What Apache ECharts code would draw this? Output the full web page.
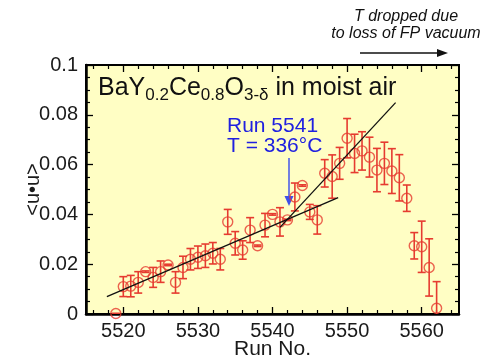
<!DOCTYPE html>
<html>
<head>
<meta charset="utf-8">
<script src="https://cdn.jsdelivr.net/npm/echarts@6/dist/echarts.min.js"></script>
<style>
html,body{margin:0;padding:0;background:#fff;}
#c{width:487px;height:356px;}
</style>
</head>
<body>
<div id="c"></div>
<script>
// ---- data ----
const runs = [5519,5520,5521,5522,5523,5524,5525,5526,5527,5528,5529,5530,5531,5532,5533,5534,5535,5536,5537,5538,5539,5540,5541,5542,5543,5544,5545,5546,5547,5548,5549,5550,5551,5552,5553,5554,5555,5556,5557,5558,5559,5560,5561,5562];
const uu = [0.0002,0.0110,0.0112,0.0127,0.0170,0.0147,0.0170,0.0197,0.0127,0.0187,0.0220,0.0228,0.0234,0.0244,0.0220,0.0370,0.0284,0.0257,0.0337,0.0274,0.0357,0.0400,0.0370,0.0378,0.0470,0.0516,0.0410,0.0378,0.0565,0.0552,0.0605,0.0706,0.0645,0.0655,0.0630,0.0578,0.0605,0.0574,0.0547,0.0465,0.0274,0.0270,0.0187,0.0023];
const uuErr = [0,0.0040,0.0043,0.0043,0.0003,0.0040,0.0043,0.0003,0.0043,0.0045,0.0043,0.0045,0.0047,0.0043,0.0043,0.0050,0.0047,0.0037,0.0050,0.0003,0.0047,0.0003,0.0057,0.0003,0.0056,0.0003,0.0030,0.0057,0.0055,0.0087,0.0064,0.0079,0.0077,0.0077,0.0080,0.0087,0.0085,0.0090,0.0093,0.0053,0.0053,0.0103,0.0115,0.0107];
const fitLowX = [5517.8, 5548.8];
const fitLowY = [0.0070, 0.0467];
const fitHighX = [5541.0, 5556.5];
const fitHighY = [0.0348, 0.0849];
const xMajorTicks = [5520,5530,5540,5550,5560];
const xMinorTicks = [5516,5518,5522,5524,5526,5528,5532,5534,5536,5538,5542,5544,5546,5548,5552,5554,5556,5558,5562,5564];

const FONT = '"Liberation Sans", Arial, Helvetica, sans-serif';
const RED = '#E63B30';

const chart = echarts.init(document.getElementById('c'), null, {renderer:'canvas'});

const pts = runs.map((r,i)=>[r, uu[i]]);
const errData = runs.map((r,i)=>[r, uu[i]-uuErr[i], uu[i]+uuErr[i]]);

function baseX(extra){
  return Object.assign({
    type:'value', min:5515, max:5565, gridIndex:0,
    splitLine:{show:false},
    axisLine:{show:false},
    axisLabel:{show:false},
    axisTick:{show:false}
  }, extra);
}
function baseY(extra){
  return Object.assign({
    type:'value', min:0, max:0.1, interval:0.02, gridIndex:0,
    splitLine:{show:false},
    axisLine:{show:false},
    axisLabel:{show:false},
    axisTick:{inside:true, length:7, lineStyle:{color:'#000', width:1.3}},
    minorTick:{show:true, splitNumber:4, length:4, lineStyle:{color:'#000', width:1.2}}
  }, extra);
}

const option = {
  animation:false,
  backgroundColor:'#fff',
  grid:{left:86, right:28, top:65, bottom:42, show:true, backgroundColor:'#FFFEC4', borderColor:'#000', borderWidth:2, containLabel:false, outerBoundsMode:'none'},
  title:{
    text:'{n|BaY}{s|0.2}{n|Ce}{s|0.8}{n|O}{s|3-δ}{n| in moist air}',
    left:98, top:76, padding:0,
    textStyle:{
      fontWeight:'normal',
      rich:{
        n:{fontSize:25, lineHeight:28, verticalAlign:'top', color:'#111', fontWeight:'normal', fontFamily:FONT},
        s:{fontSize:17, lineHeight:17, verticalAlign:'bottom', padding:[20,0,0,0], color:'#111', fontWeight:'normal', fontFamily:FONT}
      }
    }
  },
  xAxis:[
    baseX({position:'bottom',
      axisLine:{show:true, lineStyle:{color:'#000', width:2.5}},
      axisTick:{show:true, inside:true, length:7, customValues:xMajorTicks, lineStyle:{color:'#000', width:1.3}},
      axisLabel:{show:true, customValues:xMajorTicks, fontSize:20, color:'#1a1a1a', fontFamily:FONT, margin:7, formatter:function(v){return String(v);}},
      name:'Run No.', nameLocation:'middle', nameGap:25, nameMoveOverlap:false,
      nameTextStyle:{fontSize:21, color:'#1a1a1a', fontFamily:FONT}
    }),
    baseX({position:'bottom',
      axisTick:{show:true, inside:true, length:4, customValues:xMinorTicks, lineStyle:{color:'#000', width:1.2}}
    }),
    baseX({position:'top',
      axisTick:{show:true, inside:true, length:7, customValues:xMajorTicks, lineStyle:{color:'#000', width:1.3}}
    }),
    baseX({position:'top',
      axisTick:{show:true, inside:true, length:4, customValues:xMinorTicks, lineStyle:{color:'#000', width:1.2}}
    })
  ],
  yAxis:[
    baseY({position:'left',
      axisLine:{show:true, lineStyle:{color:'#000', width:2.5}},
      axisLabel:{show:true, fontSize:20, color:'#1a1a1a', fontFamily:FONT, margin:8},
      name:'<u•u>', nameLocation:'middle', nameGap:43, nameMoveOverlap:false,
      nameTextStyle:{fontSize:20, color:'#1a1a1a', fontFamily:FONT}
    }),
    baseY({position:'right'})
  ],
  series:[
    {
      type:'line', xAxisIndex:0, yAxisIndex:0, silent:true,
      data: fitLowX.map((x,i)=>[x, fitLowY[i]]),
      showSymbol:false, symbol:'none',
      lineStyle:{color:'#111', width:1.3}
    },
    {
      type:'line', xAxisIndex:0, yAxisIndex:0, silent:true,
      data: fitHighX.map((x,i)=>[x, fitHighY[i]]),
      showSymbol:false, symbol:'none',
      lineStyle:{color:'#111', width:1.3}
    },
    {
      type:'custom', xAxisIndex:0, yAxisIndex:0, clip:true, silent:true,
      data: errData,
      renderItem:function(params, api){
        const x = api.value(0);
        const lo = api.coord([x, api.value(1)]);
        const hi = api.coord([x, api.value(2)]);
        const w = 4;
        const st = {stroke:RED, lineWidth:1.6};
        return {type:'group', children:[
          {type:'line', shape:{x1:lo[0], y1:lo[1], x2:hi[0], y2:hi[1]}, style:st},
          {type:'line', shape:{x1:lo[0]-w, y1:lo[1], x2:lo[0]+w, y2:lo[1]}, style:st},
          {type:'line', shape:{x1:hi[0]-w, y1:hi[1], x2:hi[0]+w, y2:hi[1]}, style:st}
        ]};
      }
    },
    {
      type:'scatter', xAxisIndex:0, yAxisIndex:0, silent:true,
      data: pts,
      symbol:'circle', symbolSize:10,
      itemStyle:{color:'rgba(0,0,0,0)', borderColor:RED, borderWidth:1.4}
    }
  ],
  graphic:[
    {type:'text', left:227, top:116, style:{text:'Run 5541', font:'21px '+FONT, fill:'#2020E0'}},
    {type:'text', left:227, top:136, style:{text:'T = 336°C', font:'21px '+FONT, fill:'#2020E0'}},
    {type:'line', shape:{x1:289, y1:158, x2:289, y2:198}, style:{stroke:'#5060E8', lineWidth:1.6}},
    {type:'polygon', shape:{points:[[284.5,196],[293.5,196],[289,206]]}, style:{fill:'#4050E8'}},
    {type:'text', x:406, y:17, style:{text:'T dropped due', font:'italic 16px '+FONT, fill:'#111', align:'center', verticalAlign:'middle'}},
    {type:'text', x:406, y:34, style:{text:'to loss of FP vacuum', font:'italic 16px '+FONT, fill:'#111', align:'center', verticalAlign:'middle'}},
    {type:'line', shape:{x1:360, y1:53, x2:440, y2:53}, style:{stroke:'#111', lineWidth:1.4}},
    {type:'polygon', shape:{points:[[437,49],[448,53],[437,57]]}, style:{fill:'#111'}}
  ]
};
chart.setOption(option);
</script>
</body>
</html>
